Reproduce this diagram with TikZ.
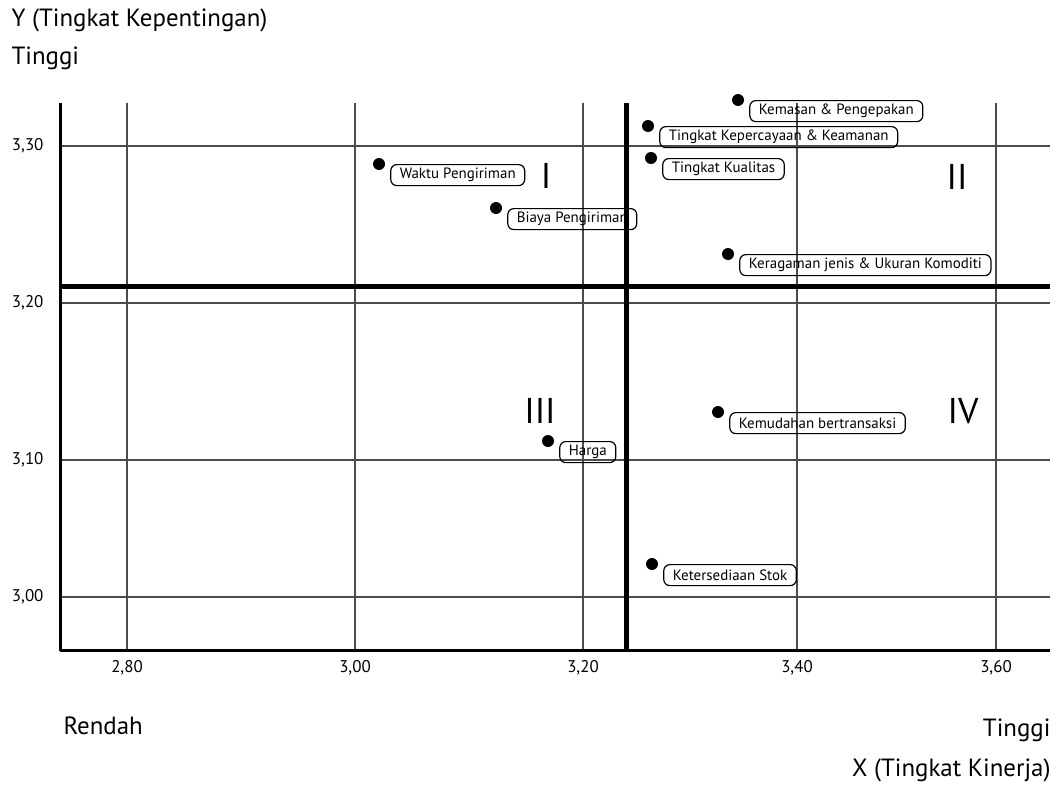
\documentclass[tikz,border=0pt]{standalone}
\usepackage{fontspec}
\setmainfont{PT Sans}
\usepackage{tikz}
\usetikzlibrary{positioning}

\begin{document}
\begin{tikzpicture}[x=1bp,y=-1bp,line join=bevel,
  grid/.style={draw=black!70,line width=1.5bp},
  axis/.style={draw=black,line width=3bp},
  quad/.style={draw=black,line width=5bp},
  dot/.style={circle,fill=black,inner sep=0pt,minimum size=12bp},
  lbl/.style={draw,rounded corners=6bp,line width=1.2bp,inner xsep=9bp,inner ysep=0pt,
    minimum height=21bp,font=\fontsize{15}{15}\selectfont,anchor=north west},
  tick/.style={font=\fontsize{17}{17}\selectfont},
  roman/.style={font=\fontsize{36}{36}\selectfont},
  title/.style={font=\fontsize{25}{25}\selectfont}]
\useasboundingbox (0,0) rectangle (1057,785);
%% grid
\foreach \x/\t in {127/{2,80},355/{3,00},583/{3,20},797/{3,40},996/{3,60}}{
  \draw[grid] (\x,103) -- (\x,650);
  \node[tick] at (\x,668) {\t};
}
\foreach \y/\t in {146/{3,30},303/{3,20},460/{3,10},597/{3,00}}{
  \draw[grid] (60,\y) -- (1050,\y);
  \node[tick,anchor=east] at (47,\y) {\t};
}
%% points
\node (pKemasan) at (738,100) [dot] {};
\node (lKemasan) at ([xshift=5bp]pKemasan.east) [lbl] {Kemasan \& Pengepakan};
\node (pPercaya) at (648,126) [dot] {};
\node (lPercaya) at ([xshift=5bp]pPercaya.east) [lbl] {Tingkat Kepercayaan \& Keamanan};
\node (pKualitas) at (651,158) [dot] {};
\node (lKualitas) at ([xshift=5bp]pKualitas.east) [lbl] {Tingkat Kualitas};
\node (pWaktu) at (379,164) [dot] {};
\node (lWaktu) at ([xshift=5bp]pWaktu.east) [lbl] {Waktu Pengiriman};
\node (pBiaya) at (496,208) [dot] {};
\node (lBiaya) at ([xshift=5bp]pBiaya.east) [lbl] {Biaya Pengiriman};
\node (pRagam) at (728,254) [dot] {};
\node (lRagam) at ([xshift=5bp]pRagam.east) [lbl] {Keragaman jenis \& Ukuran Komoditi};
\node (pMudah) at (718,412) [dot] {};
\node (lMudah) at ([xshift=5bp]pMudah.east) [lbl] {Kemudahan bertransaksi};
\node (pHarga) at (548,441) [dot] {};
\node (lHarga) at ([xshift=5bp]pHarga.east) [lbl] {Harga};
\node (pStok) at (652,564) [dot] {};
\node (lStok) at ([xshift=5bp]pStok.east) [lbl] {Ketersediaan Stok};
%% quadrants
\draw[quad] (60,286) -- (1050,286);
\draw[quad] (626,103) -- (626,650);
\draw[axis] (60,103) -- (60,650) -- (1050,650);
\node (qI) at (546,176) [roman] {I};
\node (qII) at (957,177) [roman] {II};
\node (qIII) at (540,411) [roman] {III};
\node (qIV) at (963,411) [roman] {IV};
%% axis titles
\node (yTitle) at (8,20) [title,anchor=west] {Y (Tingkat Kepentingan)};
\node (yHigh) at (8,58) [title,anchor=west] {Tinggi};
\node (xLow) at (60,726) [title,anchor=west] {Rendah};
\node (xHigh) at (1054,730) [title,anchor=east] {Tinggi};
\node (xTitle) at (1054,770) [title,anchor=east] {X (Tingkat Kinerja)};
%
\end{tikzpicture}
\end{document}
